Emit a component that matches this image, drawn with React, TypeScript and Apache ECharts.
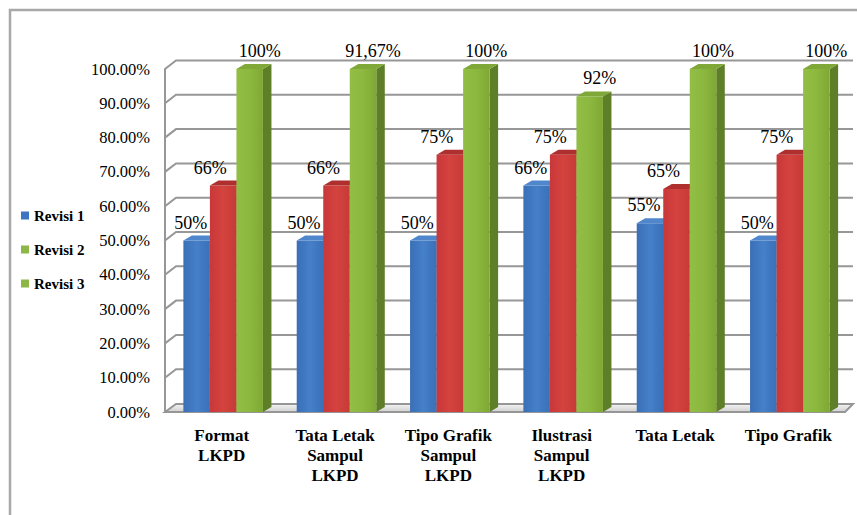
import React, { useEffect, useRef } from 'react';
import * as echarts from 'echarts';

const categories = [
  'Format\nLKPD',
  'Tata Letak\nSampul\nLKPD',
  'Tipo Grafik\nSampul\nLKPD',
  'Ilustrasi\nSampul\nLKPD',
  'Tata Letak',
  'Tipo Grafik',
];
const seriesNames = ['Revisi 1', 'Revisi 2', 'Revisi 3'];
const revisi1 = [50, 50, 50, 66, 55, 50];
const revisi2 = [66, 66, 75, 75, 65, 75];
const revisi3 = [100, 100, 100, 92, 100, 100];
const labels1 = ['50%', '50%', '50%', '66%', '55%', '50%'];
const labels2 = ['66%', '66%', '75%', '75%', '65%', '75%'];
const labels3 = ['100%', '91,67%', '100%', '92%', '100%', '100%'];
const yTicks = [0, 10, 20, 30, 40, 50, 60, 70, 80, 90, 100];
const legendColors = ['#3F74C0', '#8CB746', '#8CB746'];

const SERIF = 'Liberation Serif';

type Palette = { front: [string, string, string]; top: string; side: string };
const palettes: Palette[] = [
  { front: ['#3A6FB6', '#4580C8', '#3A70B8'], top: '#4F86CC', side: '#2C5A98' },
  { front: ['#C9383A', '#D4433E', '#C73A37'], top: '#AE2F2E', side: '#8E2826' },
  { front: ['#92BE45', '#8DB83F', '#7EA834'], top: '#7FA838', side: '#5E7E28' },
];
const labelOffsets = [-6, -13, 10];
const DX = 8.5;
const DY = 5;

function makeBarRender(si: number, labels: string[], pal: Palette) {
  return (params: any, api: any) => {
    const idx = api.value(0);
    const val = api.value(1);
    const base = api.coord([idx, 0]);
    const top = api.coord([idx, val]);
    const catW = api.size([1, 0])[0];
    const bw = catW * 0.234;
    const x0 = base[0] - 1.5 * bw + si * bw + 1.5;
    const x1 = x0 + bw;
    const yt = top[1];
    const yb = base[1];
    return {
      type: 'group',
      children: [
        {
          type: 'polygon',
          shape: { points: [[x1, yt], [x1 + DX, yt - DY], [x1 + DX, yb - DY], [x1, yb]] },
          style: { fill: pal.side },
        },
        {
          type: 'rect',
          shape: { x: x0, y: yt, width: bw, height: yb - yt },
          style: {
            fill: new echarts.graphic.LinearGradient(0, 0, 1, 0, [
              { offset: 0, color: pal.front[0] },
              { offset: 0.5, color: pal.front[1] },
              { offset: 1, color: pal.front[2] },
            ]),
          },
        },
        {
          type: 'polygon',
          shape: { points: [[x0, yt], [x0 + DX, yt - DY], [x1 + DX, yt - DY], [x1, yt]] },
          style: { fill: pal.top },
        },
        {
          type: 'text',
          z2: 100,
          style: {
            text: labels[idx],
            x: (x0 + x1) / 2 + labelOffsets[si],
            y: yt - 18,
            align: 'center',
            verticalAlign: 'middle',
            fill: '#000',
            fontFamily: SERIF,
            fontSize: 18,
          },
        },
      ],
    };
  };
}

function wallRender(params: any, api: any) {
  const cs = params.coordSys;
  const v = api.value(1);
  const y = api.coord([0, v])[1];
  const left = cs.x;
  const right = cs.x + cs.width;
  if (v === 0) {
    return {
      type: 'polygon',
      shape: { points: [[left, y], [left + 11, y - 8], [right + 8, y - 8], [right, y]] },
      style: {
        fill: new echarts.graphic.LinearGradient(0, 0, 0, 1, [
          { offset: 0, color: '#F4F4F4' },
          { offset: 1, color: '#D0D0D0' },
        ]),
        stroke: '#969696',
        lineWidth: 2,
      },
    };
  }
  return {
    type: 'polyline',
    shape: { points: [[left, y], [left + 11, y - 8.5], [right + 8, y - 8.5]] },
    style: { stroke: '#979797', lineWidth: 2, fill: null },
  };
}

export default function App() {
  const ref = useRef<HTMLDivElement>(null);
  useEffect(() => {
    if (!ref.current) return;
    const chart = echarts.init(ref.current, null, { renderer: 'svg' });
    const seriesData = [revisi1, revisi2, revisi3];
    const seriesLabels = [labels1, labels2, labels3];
    chart.setOption({
      animation: false,
      backgroundColor: '#fff',
      textStyle: { fontFamily: SERIF },
      grid: { left: 165, right: 12, top: 69, bottom: 103 },
      legend: {
        orient: 'vertical',
        left: 16,
        top: 203,
        itemGap: 19,
        itemWidth: 8,
        itemHeight: 8,
        icon: 'rect',
        selectedMode: false,
        textStyle: { fontFamily: SERIF, fontSize: 15, fontWeight: 'bold', color: '#000' },
        data: seriesNames.map((n, i) => ({ name: n, itemStyle: { color: legendColors[i] } })),
      },
      xAxis: {
        type: 'category',
        data: categories,
        axisLine: { show: false },
        axisTick: { show: false },
        splitLine: { show: false },
        axisLabel: {
          interval: 0,
          margin: 13,
          fontFamily: SERIF,
          fontSize: 17,
          fontWeight: 'bold',
          lineHeight: 20,
          color: '#000',
        },
      },
      yAxis: {
        type: 'value',
        min: 0,
        max: 100,
        interval: 10,
        axisLine: { show: true, lineStyle: { color: '#979797', width: 2 } },
        axisTick: { show: false },
        splitLine: { show: false },
        axisLabel: {
          margin: 15,
          fontFamily: SERIF,
          fontSize: 16.5,
          color: '#000',
          formatter: (v: number) => v.toFixed(2) + '%',
        },
      },
      graphic: [
        {
          type: 'rect',
          shape: { x: 10, y: 10, width: 900, height: 560 },
          style: { fill: null, stroke: '#A8A8A8', lineWidth: 2.5 },
          z: 0,
        },
      ],
      series: [
        {
          type: 'custom',
          name: '__walls',
          z: 1,
          silent: true,
          renderItem: wallRender,
          data: yTicks.map((v) => [0, v]),
        },
        ...seriesNames.map((name, si) => ({
          type: 'custom',
          name,
          z: 3,
          itemStyle: { color: legendColors[si] },
          renderItem: makeBarRender(si, seriesLabels[si], palettes[si]),
          data: seriesData[si].map((v, i) => [i, v]),
        })),
      ],
    });
    return () => chart.dispose();
  }, []);
  return (
    <div
      ref={ref}
      style={{ position: 'absolute', left: 0, top: 0, width: 857, height: 515 }}
    />
  );
}
